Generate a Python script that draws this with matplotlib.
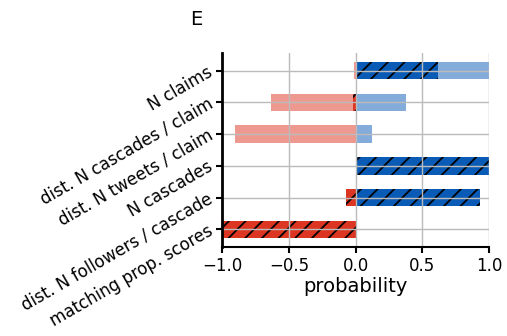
import matplotlib
matplotlib.use("Agg")
import matplotlib.pyplot as plt
import numpy as np

# rows from bottom to top
labels = ["matching prop. scores", "dist. N followers / cascade", "N cascades",
          "dist. N tweets / claim", "dist. N cascades / claim", "N claims"]
neg_all = [-1.0, -0.07, 0.0, -0.90, -0.63, -0.01]
neg_sig = [-1.0, -0.07, 0.0, 0.0, -0.02, 0.0]
pos_all = [0.0, 0.93, 1.0, 0.12, 0.38, 1.0]
pos_sig = [0.0, 0.93, 1.0, 0.0, 0.0, 0.62]

RED = "#dc3522"
BLUE = "#0a5bb6"

plt.rcParams["hatch.linewidth"] = 1.3

fig = plt.figure(figsize=(5.07, 3.36), dpi=100)
ax = fig.add_axes([0.438, 0.265, 0.527, 0.577])

y = np.arange(len(labels))
h = 0.55
ax.barh(y, neg_all, height=h, color=RED, alpha=0.5, lw=0)
ax.barh(y, pos_all, height=h, color=BLUE, alpha=0.5, lw=0)
ax.barh(y, neg_sig, height=h, color=RED, edgecolor="black", lw=0, hatch="//")
ax.barh(y, pos_sig, height=h, color=BLUE, edgecolor="black", lw=0, hatch="//")

ax.set_xlim(-1, 1)
ax.set_xticks([-1.0, -0.5, 0.0, 0.5, 1.0])
ax.set_yticks(y)
ax.set_yticklabels(labels, rotation=30, ha="right", va="center",
                   rotation_mode="anchor", fontsize=12)
ax.tick_params(axis="x", labelsize=12, width=1.5, length=4)
ax.tick_params(axis="y", width=1.5, length=4)
ax.set_xlabel("probability", fontsize=14, labelpad=1)
ax.grid(True, color="#bbbbbb", lw=1)
for s in ["top", "right"]:
    ax.spines[s].set_visible(False)
ax.spines["left"].set_linewidth(2)
ax.spines["bottom"].set_linewidth(1.5)

fig.text(190 / 507, 1 - 25 / 336, "E", fontsize=14, va="baseline")

plt.savefig("out.png", dpi=100)
